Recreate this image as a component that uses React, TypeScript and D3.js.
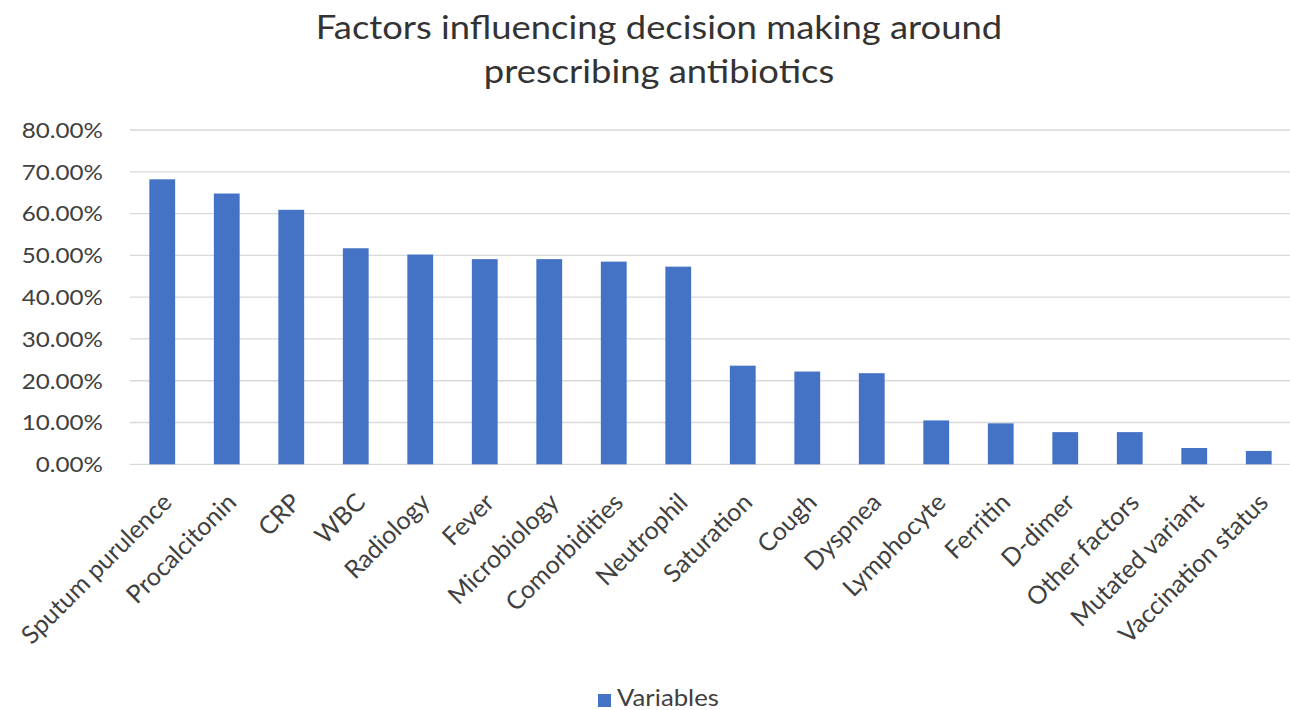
import React from "react";
import * as d3 from "d3";

const categories = [
  "Sputum purulence", "Procalcitonin", "CRP", "WBC", "Radiology", "Fever",
  "Microbiology", "Comorbidities", "Neutrophil", "Saturation", "Cough", "Dyspnea",
  "Lymphocyte", "Ferritin", "D-dimer", "Other factors", "Mutated variant", "Vaccination status",
];
const values = [
  0.682, 0.648, 0.609, 0.517, 0.502, 0.491, 0.491, 0.485, 0.473,
  0.236, 0.222, 0.218, 0.105, 0.098, 0.077, 0.077, 0.039, 0.032,
];
const yTicks = [0, 0.1, 0.2, 0.3, 0.4, 0.5, 0.6, 0.7, 0.8];
const titleLines = ["Factors influencing decision making around", "prescribing antibiotics"];
const seriesName = "Variables";

const W = 1290, H = 710;
const FONT = "Lato, 'Open Sans', sans-serif";
const TEXT = "#404040";

export default function App() {
  const x = d3.scaleBand<string>().domain(categories).range([130, 1291]).paddingInner(0.6).paddingOuter(0.3);
  const y = d3.scaleLinear().domain([0, 0.8]).range([464.3, 130]);
  const fmt = d3.format(".2%");
  return (
    <svg width={W} height={H} style={{ position: "absolute", left: 0, top: 0, background: "#fff" }} fontFamily={FONT}>
      <rect x={0} y={0} width={W} height={H} fill="#fff" />
      {titleLines.map((t, i) => (
        <text key={i} transform={`translate(659,${38.5 + i * 44.5}) scale(1.12,1)`} textAnchor="middle" fontSize={32.5} fill="#333">{t}</text>
      ))}
      {yTicks.map((t) => (
        <g key={t}>
          <line x1={130} x2={1290} y1={y(t)} y2={y(t)} stroke="#d9d9d9" strokeWidth={1.3} />
          <text transform={`translate(103,${y(t)}) scale(1.1,1)`} dy="0.36em" textAnchor="end" fontSize={22} fill={TEXT}>{fmt(t)}</text>
        </g>
      ))}
      {categories.map((c, i) => (
        <rect key={c} x={x(c)} y={y(values[i])} width={x.bandwidth()} height={y(0) - y(values[i])} fill="#4472c4" />
      ))}
      {categories.map((c) => {
        const cx = (x(c) as number) + x.bandwidth() / 2;
        return (
          <text key={c} transform={`translate(${cx + 11},${504}) rotate(-45)`} textAnchor="end" fontSize={25} fill={TEXT}>{c}</text>
        );
      })}
      <rect x={598} y={694} width={13} height={13} fill="#4472c4" />
      <text transform="translate(617,706) scale(1.12,1)" fontSize={23} fill={TEXT}>{seriesName}</text>
    </svg>
  );
}
